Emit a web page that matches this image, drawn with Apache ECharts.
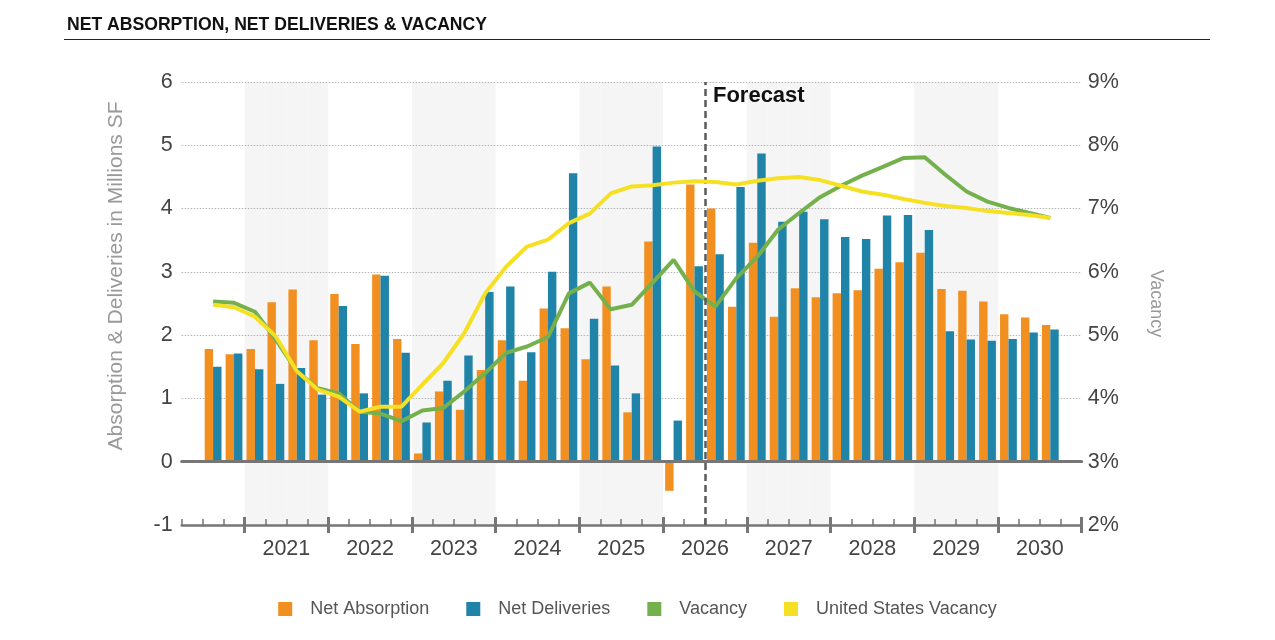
<!DOCTYPE html>
<html>
<head>
  <meta charset="utf-8" />
  <title>Net Absorption, Net Deliveries & Vacancy</title>
  <script src="https://cdn.jsdelivr.net/npm/echarts@6/dist/echarts.min.js"></script>
  <style>
    html, body { margin: 0; padding: 0; background: #fff; }
    #chart { width: 1275px; height: 640px; }
  </style>
</head>
<body>
  <div id="chart"></div>
  <script>
    // quarters on the axis (first and last have no data)
    const quarters = [
      '2020 Q2', '2020 Q3', '2020 Q4',
      '2021 Q1', '2021 Q2', '2021 Q3', '2021 Q4',
      '2022 Q1', '2022 Q2', '2022 Q3', '2022 Q4',
      '2023 Q1', '2023 Q2', '2023 Q3', '2023 Q4',
      '2024 Q1', '2024 Q2', '2024 Q3', '2024 Q4',
      '2025 Q1', '2025 Q2', '2025 Q3', '2025 Q4',
      '2026 Q1', '2026 Q2', '2026 Q3', '2026 Q4',
      '2027 Q1', '2027 Q2', '2027 Q3', '2027 Q4',
      '2028 Q1', '2028 Q2', '2028 Q3', '2028 Q4',
      '2029 Q1', '2029 Q2', '2029 Q3', '2029 Q4',
      '2030 Q1', '2030 Q2', '2030 Q3', '2030 Q4'
    ];
    // quarter boundaries, used for ticks, year labels and the forecast line
    const boundaries = quarters.concat(['2031 Q1']);
    const forecastStart = '2026 Q3';

    // millions SF
    const netAbsorption = [null,
      1.78, 1.70, 1.78, 2.52, 2.72, 1.92, 2.65, 1.86, 2.96, 1.94,
      0.13, 1.11, 0.82, 1.45, 1.92, 1.28, 2.42, 2.11, 1.62, 2.77,
      0.78, 3.48, -0.46, 4.38, 4.00, 2.45, 3.46, 2.29, 2.74, 2.60,
      2.66, 2.71, 3.05, 3.15, 3.30, 2.73, 2.70, 2.53, 2.33, 2.28, 2.16,
      null];
    const netDeliveries = [null,
      1.50, 1.71, 1.46, 1.23, 1.48, 1.06, 2.46, 1.08, 2.94, 1.72,
      0.62, 1.28, 1.68, 2.68, 2.77, 1.73, 3.00, 4.56, 2.26, 1.52,
      1.08, 4.98, 0.65, 3.09, 3.28, 4.34, 4.87, 3.79, 3.95, 3.83,
      3.55, 3.52, 3.89, 3.90, 3.66, 2.06, 1.93, 1.91, 1.94, 2.04, 2.09,
      null];
    // percent
    const vacancy = [null,
      5.53, 5.51, 5.37, 4.93, 4.43, 4.16, 4.08, 3.79, 3.76, 3.64,
      3.81, 3.85, 4.11, 4.40, 4.72, 4.82, 4.97, 5.66, 5.83, 5.41,
      5.48, 5.83, 6.19, 5.69, 5.45, 5.90, 6.24, 6.67, 6.93, 7.18,
      7.36, 7.52, 7.66, 7.80, 7.81, 7.53, 7.27, 7.11, 7.01, 6.93, 6.85,
      null];
    const usVacancy = [null,
      5.48, 5.44, 5.29, 4.98, 4.43, 4.14, 4.03, 3.79, 3.87, 3.87,
      4.22, 4.56, 5.03, 5.66, 6.08, 6.40, 6.51, 6.77, 6.92, 7.24,
      7.35, 7.37, 7.41, 7.43, 7.42, 7.38, 7.44, 7.48, 7.50, 7.45,
      7.36, 7.27, 7.22, 7.15, 7.09, 7.04, 7.01, 6.96, 6.93, 6.90, 6.85,
      null];

    const FONT = "'Liberation Sans', Arial, sans-serif";
    const ORANGE = '#f28f21';
    const BLUE = '#1f84a8';
    const GREEN = '#74b14c';
    const YELLOW = '#f6e024';
    const AXIS = '#767676';

    // odd years get the light background band
    const shade = quarters.map(q => (Number(q.slice(0, 4)) % 2 === 1 ? 1 : null));

    // a year is labelled only if all its quarters are on the axis
    function yearLabel(v) {
      const year = v.slice(0, 4);
      return v.endsWith('Q3') && quarters.includes(year + ' Q1') ? year : '';
    }

    const chart = echarts.init(document.getElementById('chart'));

    const option = {
      animation: false,
      textStyle: { fontFamily: FONT },
      title: {
        text: 'NET ABSORPTION, NET DELIVERIES & VACANCY',
        left: 62,
        top: 11,
        textStyle: { fontFamily: FONT, fontSize: 17.6, fontWeight: 'bold', color: '#111' }
      },
      graphic: [{
        type: 'line',
        shape: { x1: 64, y1: 39.5, x2: 1210, y2: 39.5 },
        style: { stroke: '#222', lineWidth: 1.2 },
        silent: true
      }],
      legend: {
        data: ['Net Absorption', 'Net Deliveries', 'Vacancy', 'United States Vacancy'],
        left: 'center',
        top: 595,
        icon: 'rect',
        itemWidth: 14,
        itemHeight: 14,
        itemGap: 37,
        textStyle: { fontFamily: FONT, fontSize: 18, color: '#555', padding: [0, 0, 0, 13] }
      },
      grid: { left: 181.7, right: 193.3, top: 82, bottom: 115 },
      xAxis: [
        { // data axis, its line is the zero line
          type: 'category',
          data: quarters,
          axisLine: { onZero: true, lineStyle: { color: AXIS, width: 3 } },
          axisTick: { show: false },
          axisLabel: { show: false },
          splitLine: { show: false },
          z: 3
        },
        { // bottom axis: minor ticks and year labels
          type: 'category',
          data: boundaries,
          boundaryGap: false,
          position: 'bottom',
          axisLine: { onZero: false, lineStyle: { color: AXIS, width: 2.5 } },
          axisTick: { interval: 0, inside: true, length: 6, lineStyle: { color: AXIS, width: 1.5 } },
          axisLabel: {
            interval: 0,
            margin: 13,
            fontSize: 21.5,
            color: '#444',
            formatter: yearLabel
          },
          splitLine: { show: false }
        },
        { // major year ticks
          type: 'category',
          data: boundaries,
          boundaryGap: false,
          position: 'bottom',
          offset: -8,
          axisLine: { show: false, onZero: false },
          axisTick: {
            interval: idx => boundaries[idx].endsWith('Q1'),
            length: 16,
            lineStyle: { color: AXIS, width: 3 }
          },
          axisLabel: { show: false },
          splitLine: { show: false }
        },
        { // background bands
          type: 'category',
          data: quarters,
          show: false
        }
      ],
      yAxis: [
        {
          type: 'value',
          min: -1,
          max: 6,
          interval: 1,
          position: 'left',
          name: 'Absorption & Deliveries in Millions SF',
          nameLocation: 'middle',
          nameGap: 55,
          nameTextStyle: { fontFamily: FONT, fontSize: 21, color: '#999', padding: [0, 0, 0, 55] },
          axisLine: { show: false },
          axisTick: { show: false },
          axisLabel: { fontSize: 21.5, color: '#444', margin: 9 },
          splitLine: { lineStyle: { color: '#b5b5b5', type: [1.5, 1.5], width: 1 } }
        },
        {
          type: 'value',
          min: 2,
          max: 9,
          interval: 1,
          position: 'right',
          name: 'Vacancy',
          nameLocation: 'middle',
          nameRotate: -90,
          nameGap: 65,
          nameTextStyle: { fontFamily: FONT, fontSize: 18, color: '#999' },
          axisLine: { show: false },
          axisTick: { show: false },
          axisLabel: { fontSize: 21.5, color: '#444', margin: 6, formatter: '{value}%' },
          splitLine: { show: false }
        },
        {
          type: 'value',
          min: 0,
          max: 1,
          show: false
        }
      ],
      series: [
        {
          type: 'bar',
          xAxisIndex: 3,
          yAxisIndex: 2,
          data: shade,
          barWidth: '100%',
          itemStyle: { color: '#f5f5f5' },
          silent: true,
          z: -1
        },
        {
          name: 'Net Absorption',
          type: 'bar',
          data: netAbsorption,
          barWidth: 8.4,
          barGap: '0%',
          itemStyle: { color: ORANGE }
        },
        {
          name: 'Net Deliveries',
          type: 'bar',
          data: netDeliveries,
          barWidth: 8.4,
          barGap: '0%',
          itemStyle: { color: BLUE }
        },
        {
          name: 'Vacancy',
          type: 'line',
          yAxisIndex: 1,
          data: vacancy,
          symbol: 'none',
          itemStyle: { color: GREEN },
          lineStyle: { color: GREEN, width: 4 },
          z: 4
        },
        {
          name: 'United States Vacancy',
          type: 'line',
          yAxisIndex: 1,
          data: usVacancy,
          symbol: 'none',
          itemStyle: { color: YELLOW },
          lineStyle: { color: YELLOW, width: 4 },
          z: 5
        },
        { // forecast marker
          type: 'line',
          xAxisIndex: 1,
          yAxisIndex: 0,
          data: [],
          silent: true,
          markLine: {
            silent: true,
            symbol: 'none',
            label: { show: false },
            lineStyle: { color: '#5a5a5a', type: [7, 4], width: 2.5 },
            data: [{ xAxis: forecastStart }]
          },
          markPoint: {
            silent: true,
            symbol: 'rect',
            symbolSize: 0,
            label: {
              show: true,
              position: 'right',
              distance: 0,
              offset: [8, 14],
              formatter: 'Forecast',
              fontFamily: FONT,
              fontSize: 22,
              fontWeight: 'bold',
              color: '#111'
            },
            data: [{ coord: [forecastStart, 6] }]
          },
          z: 6
        }
      ]
    };

    chart.setOption(option);
  </script>
</body>
</html>
